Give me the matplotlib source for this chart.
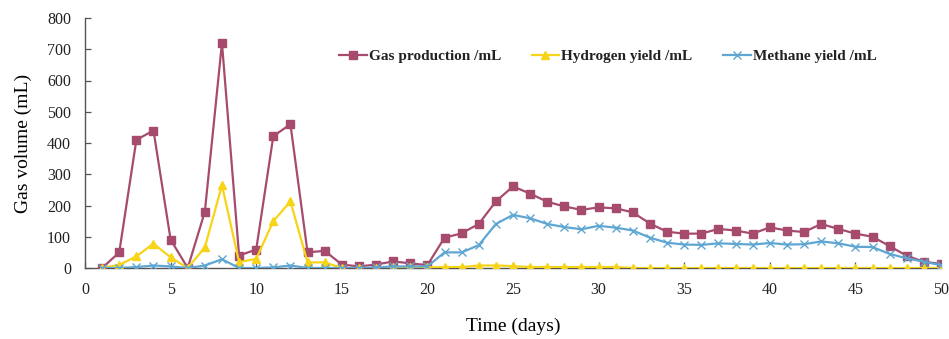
import matplotlib
matplotlib.use("Agg")
import matplotlib.pyplot as plt

days = list(range(1, 51))

gas_production = [0, 50, 410, 440, 91, 0, 180, 720, 40, 59,
                  422, 460, 50, 55, 11, 5, 11, 21, 15, 9,
                  97, 111, 141, 213, 261, 238, 212, 197, 186, 194,
                  191, 178, 142, 116, 110, 110, 125, 120, 110, 130,
                  120, 115, 141, 125, 110, 100, 70, 39, 20, 13]

hydrogen_yield = [0, 10, 37, 78, 34, 0, 66, 265, 19, 29,
                  150, 213, 18, 18, 0, 0, 0, 2, 2, 2,
                  3, 3, 8, 8, 6, 3, 3, 3, 3, 3,
                  3, 0, 0, 0, 0, 0, 0, 0, 0, 0,
                  0, 0, 0, 0, 0, 0, 0, 0, 0, 0]

methane_yield = [0, 0, 3, 8, 5, 0, 8, 28, 0, 0,
                 2, 8, 0, 0, 0, 0, 2, 5, 5, 5,
                 50, 50, 73, 141, 170, 159, 141, 131, 124, 135,
                 129, 120, 97, 81, 75, 74, 79, 77, 75, 80,
                 75, 76, 85, 79, 68, 67, 45, 31, 20, 9]

x_ticks = list(range(0, 51, 5))
y_ticks = list(range(0, 801, 100))

plt.rcParams['font.family'] = ['Liberation Serif', 'DejaVu Serif']

fig = plt.figure(figsize=(9.49, 3.39), dpi=100)
ax = fig.add_axes([85 / 949, 1 - 268 / 339, (941 - 85) / 949, (268 - 18) / 339])

ax.plot(days, gas_production, color="#A64B6D", lw=1.6, marker="s", ms=5.5,
        label="Gas production /mL", zorder=3)
ax.plot(days, hydrogen_yield, color="#F7D417", lw=1.6, marker="^", ms=5.5,
        label="Hydrogen yield /mL", zorder=4)
ax.plot(days, methane_yield, color="#5FA6D2", lw=1.6, marker="x", ms=6,
        mew=1.0, label="Methane yield /mL", zorder=5)

ax.set_xlim(0, 50)
ax.set_ylim(0, 800)
ax.set_xticks(x_ticks)
ax.set_yticks(y_ticks)
ax.spines["top"].set_visible(False)
ax.spines["right"].set_visible(False)
for s in ("left", "bottom"):
    ax.spines[s].set_color("#555555")
    ax.spines[s].set_linewidth(1.0)
ax.tick_params(axis="both", labelsize=11.5, colors="#555555", labelcolor="#222222",
               length=4, width=0.9, direction="in")
ax.tick_params(axis="y", pad=10)
ax.tick_params(axis="x", pad=10)

ax.set_xlabel("Time (days)", fontsize=14, labelpad=14)
ax.set_ylabel("Gas volume (mL)", fontsize=14, labelpad=11)

leg = ax.legend(loc="center left", bbox_to_anchor=(248 / 856, 0.848), ncol=3,
                frameon=False, handlelength=1.8, handletextpad=0.15,
                columnspacing=2.0, borderaxespad=0.0,
                prop={"weight": "bold", "size": 11, "family": "Liberation Serif"})
for t in leg.get_texts():
    t.set_color("#222222")

fig.savefig("out.png", dpi=100)
